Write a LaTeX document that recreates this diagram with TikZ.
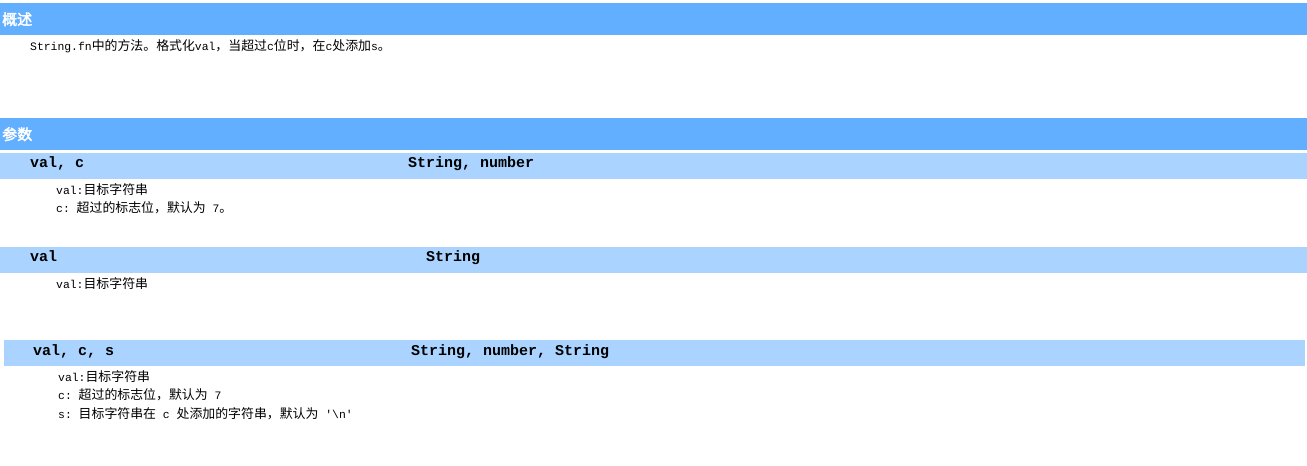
\documentclass[tikz,border=0pt]{standalone}
\usepackage{fontspec}
\setmonofont{Liberation Mono}
\newfontfamily\zhfont{Noto Sans CJK SC}
\newfontfamily\zhboldfont{Noto Sans CJK SC}[FakeBold=2.5]
\newcommand\zh[1]{{\zhfont\fontsize{12.9}{15}\selectfont #1}}
\usetikzlibrary{positioning}
\definecolor{barblue}{RGB}{99,175,255}
\definecolor{paramblue}{RGB}{170,212,255}

\begin{document}
\begin{tikzpicture}[x=1pt, y=-1pt,
    sectionbar/.style={fill=barblue, inner sep=0, minimum width=1307pt, minimum height=32pt, anchor=north west},
    parambar/.style={fill=paramblue, inner sep=0, minimum width=1307pt, minimum height=26pt, anchor=north west},
    sectiontitle/.style={anchor=west, inner sep=0, text=white, font=\zhboldfont\fontsize{15}{18}\selectfont},
    paramname/.style={anchor=base west, inner sep=0, font=\ttfamily\bfseries\fontsize{15}{18}\selectfont},
    bodyline/.style={anchor=base west, inner sep=0, font=\ttfamily\fontsize{11.4}{14}\selectfont}]
    \useasboundingbox (0,0) rectangle (1307,466);
    % Overview section
    \node (overviewbar) [sectionbar] at (0,3) {};
    \node (overviewtitle) [sectiontitle, right=2pt of overviewbar.west, anchor=west] {概述};
    \node (overviewtext) [bodyline] at (30,50) {String.fn\zh{中的方法。格式化}val\zh{，当超过}c\zh{位时，在}c\zh{处添加}s\zh{。}};
    % Parameter section
    \node (parambar) [sectionbar] at (0,118) {};
    \node (paramtitle) [sectiontitle, right=2pt of parambar.west, anchor=west] {参数};
    % First signature
    \node (sigonebar) [parambar] at (0,153) {};
    \node (sigonename) [paramname] at (30,167.5) {val, c};
    \node (sigonetype) [paramname] at (408,167.5) {String, number};
    \node (sigoneval) [bodyline] at (56,194) {val:\zh{目标字符串}};
    \node (sigonec) [bodyline] at (56,212.5) {c: \zh{超过的标志位，默认为} 7\zh{。}};
    % Second signature
    \node (sigtwobar) [parambar] at (0,247) {};
    \node (sigtwoname) [paramname] at (30,261.5) {val};
    \node (sigtwotype) [paramname] at (426,261.5) {String};
    \node (sigtwoval) [bodyline] at (56,288.5) {val:\zh{目标字符串}};
    % Third signature
    \node (sigthreebar) [parambar, minimum width=1301pt] at (4,339.5) {};
    \node (sigthreename) [paramname] at (33,355.5) {val, c, s};
    \node (sigthreetype) [paramname] at (411,355.5) {String, number, String};
    \node (sigthreeval) [bodyline] at (58,381.5) {val:\zh{目标字符串}};
    \node (sigthreec) [bodyline] at (58,399.5) {c: \zh{超过的标志位，默认为} 7};
    \node (sigthrees) [bodyline] at (58,418.5) {s: \zh{目标字符串在} c \zh{处添加的字符串，默认为} '\textbackslash n'};
\end{tikzpicture}
\end{document}
